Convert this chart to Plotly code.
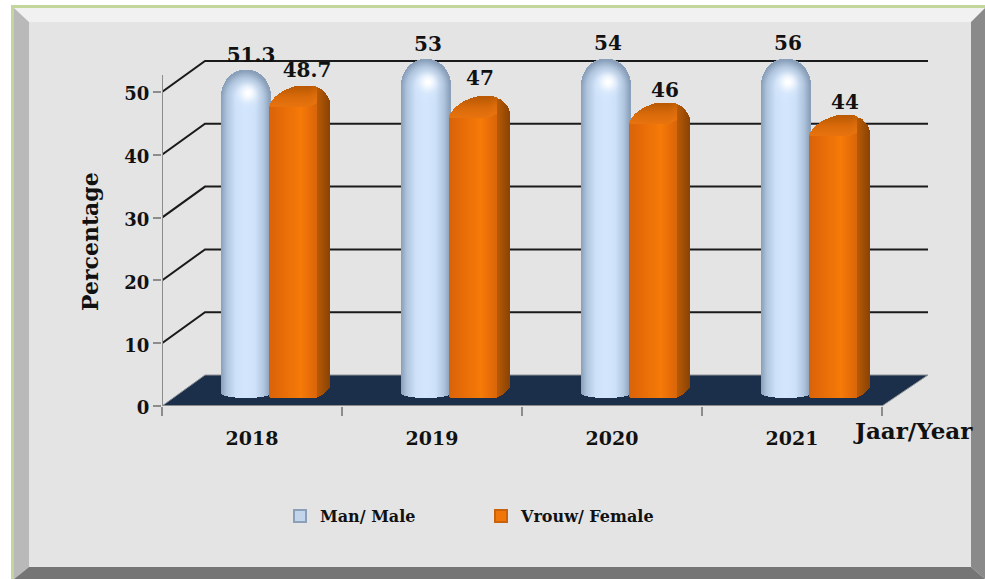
import numpy as np
import plotly.graph_objects as go

# ---- data ----
years = ["2018", "2019", "2020", "2021"]
male = [51.3, 53, 54, 56]
female = [48.7, 47, 46, 44]
male_name = "Man/ Male"
female_name = "Vrouw/ Female"
y_ticks = [0, 10, 20, 30, 40, 50]

# ---- layout constants ----
W, H = 985, 579
L, R, T, B = 162, 930, 30, 406      # plot area in page pixels
PX_CAT = 180.0                      # pixels per category
PX_UNIT = 6.28                      # pixels per percentage point
X_MIN = -0.5
X_MAX = X_MIN + (R - L) / PX_CAT
Y_MAX = (B - T) / PX_UNIT
LIFT = 2.2                          # bars stand part-way into the floor
CAP = 55.25                         # 3-D wall top; taller bars are cut here
BASE_PX = 5.0                       # depth of the cylinder's bottom ellipse
DEPTH_X = 43 / PX_CAT
DEPTH_Y = 31 / PX_UNIT
WALL_END = X_MIN + (928 - L) / PX_CAT
SERIF = "DejaVu Serif"
STEP = 1.0                          # shading cell size in pixels


def hexrgb(h):
    return np.array([int(h[i:i + 2], 16) for i in (1, 3, 5)], float)


def ramp(t, stops):
    xs = [s[0] for s in stops]
    cs = np.array([hexrgb(s[1]) for s in stops])
    return np.array([np.interp(t, xs, cs[:, i]) for i in range(3)])


def css(c):
    return "rgb(%d,%d,%d)" % tuple(np.clip(np.round(c), 0, 255))


class Cells:
    def __init__(self):
        self.x, self.base, self.h, self.w, self.c = [], [], [], [], []

    def add(self, idx, px_left, px_wid, y_hi, y_lo, col):
        if y_hi <= y_lo:
            return
        self.x.append(idx + (px_left + px_wid / 2) / PX_CAT)
        self.w.append(px_wid / PX_CAT)
        self.base.append(y_lo)
        self.h.append(y_hi - y_lo)
        self.c.append(col)


CYL_STOPS = [(0, "#d3e6fd"), (0.4, "#cde1f9"), (0.75, "#b0c5de"), (1, "#899eb8")]


def cylinder(cells, idx, value):
    left, rad, dome, glow_below = -31.0, 24.5, 27.0, 16.0
    top = min(value + LIFT, CAP)
    y_body = top - dome / PX_UNIT
    floor_y = (B - 393) / PX_UNIT
    for px in np.arange(0, 49, STEP):
        t = np.clip((px + STEP / 2 - rad) / rad, -0.99, 0.99)
        arc = np.sqrt(1 - t * t)
        y_top = top - dome * (1 - arc) / PX_UNIT
        y_low = floor_y - BASE_PX / PX_UNIT * arc
        y_glow = y_body - glow_below / PX_UNIT
        cells.add(idx, left + px, STEP + 0.2, y_glow + 0.02, y_low, css(ramp(abs(t), CYL_STOPS)))
        for row in np.arange(-glow_below, dome, STEP):
            lo = y_body + row / PX_UNIT
            hi = y_body + (row + STEP) / PX_UNIT
            if lo >= y_top:
                break
            u = max(row + STEP / 2, 0) / dome
            col = ramp(min(np.hypot(t, u), 1), CYL_STOPS)
            dx = px + STEP / 2 - 27
            dy = row + STEP / 2 - 5
            glow = np.exp(-(dx * dx + dy * dy) / 70.0)
            col = col + (255 - col) * glow
            cells.add(idx, left + px, STEP + 0.2, min(hi, y_top) + 0.01, lo, css(col))


FRONT = [(0, "#d9620a"), (12, "#e66b08"), (32, "#f57a08"), (40, "#e96e08"), (48, "#d8650a")]
SIDE = [(48, "#b85a06"), (60, "#8c4403")]
PROFILE_DX = [0, 2, 6, 14, 24, 28, 44, 52, 58, 60]
PROFILE_DY = [20, 16, 11, 5, 1, 0, 0, 3, 10, 15]
EDGE_DX = [0, 40, 48]
EDGE_DY = [20, 20, 16]
FOOT_DX = [0, 3, 46, 52, 60]
FOOT_DY = [-1, 0, 0, -3, -10]


def box(cells, idx, value):
    left = 17.0
    top = min(value + LIFT, CAP)
    foot = (B - 398) / PX_UNIT
    for px in np.arange(0, 60, STEP):
        d = px + STEP / 2
        y_top = top - np.interp(d, PROFILE_DX, PROFILE_DY) / PX_UNIT
        y_low = foot - np.interp(d, FOOT_DX, FOOT_DY) / PX_UNIT
        if d >= 48:
            cells.add(idx, left + px, STEP + 0.2, y_top, y_low, css(ramp(d, SIDE)))
            continue
        y_edge = top - np.interp(d, EDGE_DX, EDGE_DY) / PX_UNIT
        cells.add(idx, left + px, STEP + 0.2, y_edge + 0.02, y_low, css(ramp(d, FRONT)))
        span = (y_top - y_edge) * PX_UNIT
        for row in np.arange(0, span, STEP):
            lo = y_edge + row / PX_UNIT
            hi = min(y_edge + (row + STEP) / PX_UNIT, y_top)
            f = (row + STEP / 2) / 20.0
            col = ramp(f, [(0, "#e8730e"), (0.5, "#d96a0a"), (1, "#bb5a03")])
            cells.add(idx, left + px, STEP + 0.2, hi + 0.01, lo, css(col))


male_cells, female_cells = Cells(), Cells()
for i in range(len(years)):
    cylinder(male_cells, i, male[i])
    box(female_cells, i, female[i])


def bar_trace(c):
    return go.Bar(x=c.x, y=c.h, base=c.base, width=c.w,
                  marker=dict(color=c.c, line=dict(width=0)),
                  showlegend=False, hoverinfo="skip")


fig = go.Figure()
fig.add_trace(bar_trace(male_cells))
fig.add_trace(bar_trace(female_cells))

# value labels
male_label_dx = [-1, -4, -4, -4]
male_label_dy = [2.1, 2.2, 2.2, 2.2]
female_label_dx = [55, 48, 53, 53]
female_label_dy = [2.3, 2.7, 1.8, 1.9]
lab_x, lab_y, lab_t = [], [], []
for i in range(len(years)):
    lab_x.append(i + male_label_dx[i] / PX_CAT)
    lab_y.append(min(male[i] + LIFT, CAP) + male_label_dy[i])
    lab_t.append(f"{male[i]:g}")
    lab_x.append(i + female_label_dx[i] / PX_CAT)
    lab_y.append(min(female[i] + LIFT, CAP) + female_label_dy[i])
    lab_t.append(f"{female[i]:g}")
fig.add_trace(go.Scatter(x=lab_x, y=lab_y, text=lab_t, mode="text",
                         textposition="middle center",
                         textfont=dict(family=SERIF, size=20, color="#111111", weight="bold"),
                         showlegend=False, hoverinfo="skip", cliponaxis=False))

# legend entries
fig.add_trace(go.Scatter(x=[None], y=[None], mode="markers", name=male_name,
                         marker=dict(symbol="square", size=12, color="#c3d5ea",
                                     line=dict(color="#8b9fb8", width=1))))
fig.add_trace(go.Scatter(x=[None], y=[None], mode="markers", name=female_name,
                         marker=dict(symbol="square", size=12, color="#f0760c",
                                     line=dict(color="#c9620a", width=1))))


def px_x(p):
    return (p - L) / (R - L)


def px_y(p):
    return (B - p) / (B - T)


def poly(points, color, line=None):
    path = "M" + " L".join(f"{px_x(a):.5f},{px_y(b):.5f}" for a, b in points) + " Z"
    return dict(type="path", path=path, xref="paper", yref="paper", layer="below",
                fillcolor=color, line=dict(width=0) if line is None else line)


shapes = [
    poly([(11, 5), (985, 5), (985, 8), (14, 8), (14, 579), (11, 579)], "#c3d69b"),
    poly([(14, 8), (985, 8), (971, 22), (29, 22)], "#f1f1f1"),
    poly([(985, 8), (985, 579), (971, 567), (971, 22)], "#8a8a8a"),
    poly([(14, 8), (29, 22), (29, 567), (14, 579)], "#b9b9b9"),
    poly([(29, 567), (971, 567), (985, 579), (14, 579)], "#757575"),
    poly([(29, 22), (971, 22), (971, 567), (29, 567)], "#e4e4e4"),
]

# walls and floor in data coordinates
for v in y_ticks[1:]:
    shapes.append(dict(type="path", layer="below", xref="x", yref="y",
                       path=f"M{X_MIN},{v} L{X_MIN + DEPTH_X:.4f},{v + DEPTH_Y:.4f} L{WALL_END:.4f},{v + DEPTH_Y:.4f}",
                       line=dict(color="#1a1a1a", width=2)))
shapes.append(dict(type="path", layer="below", xref="x", yref="y",
                   path=(f"M{X_MIN},0 L{X_MIN + DEPTH_X:.4f},{DEPTH_Y:.4f} "
                         f"L{WALL_END:.4f},{DEPTH_Y:.4f} L{len(years) - 0.5},0 Z"),
                   fillcolor="#1c2f4a", line=dict(color="#8f9398", width=1)))
shapes.append(dict(type="line", layer="below", xref="x", yref="y",
                   x0=X_MIN, x1=len(years) - 0.5, y0=0, y1=0,
                   line=dict(color="#8c8c8c", width=2)))
shapes.append(dict(type="line", layer="below", xref="x", yref="y",
                   x0=X_MIN, x1=X_MIN, y0=0, y1=52.7,
                   line=dict(color="#8c8c8c", width=2)))

fig.update_layout(
    width=W, height=H, autosize=False,
    margin=dict(l=L, r=W - R, t=T, b=H - B, pad=0),
    paper_bgcolor="#ffffff", plot_bgcolor="rgba(0,0,0,0)",
    barmode="overlay", bargap=0, hovermode=False,
    shapes=shapes,
    xaxis=dict(range=[X_MIN, X_MAX], tickmode="array", tickvals=list(range(len(years))),
               ticktext=years, ticks="", ticklen=0, ticklabelstandoff=19, showgrid=False,
               zeroline=False, showline=False,
               tickfont=dict(family=SERIF, size=19, color="#111111", weight="bold"),
               minor=dict(tickmode="array", tickvals=[i - 0.5 for i in range(len(years) + 1)],
                          ticks="outside", ticklen=9, tickwidth=2, tickcolor="#8c8c8c",
                          showgrid=False)),
    yaxis=dict(range=[0, Y_MAX], tickmode="array", tickvals=y_ticks, ticks="outside",
               ticklen=8, tickwidth=2, tickcolor="#8c8c8c", showgrid=False, zeroline=False,
               showline=False, ticklabelshift=2,
               tickfont=dict(family=SERIF, size=18, color="#111111", weight="bold")),
    legend=dict(orientation="h", x=px_x(280), y=px_y(499), xanchor="left", yanchor="top",
                entrywidth=156, entrywidthmode="pixels", itemsizing="constant",
                bgcolor="rgba(0,0,0,0)", itemclick=False, itemdoubleclick=False,
                font=dict(family=SERIF, size=16, color="#111111", weight="bold")),
    annotations=[
        dict(text="Jaar/Year", xref="paper", yref="paper", x=px_x(913), y=px_y(430),
             xanchor="center", yanchor="middle", showarrow=False,
             font=dict(family=SERIF, size=23, color="#111111", weight="bold")),
        dict(text="Percentage", xref="paper", yref="paper", x=px_x(90), y=px_y(242),
             xanchor="center", yanchor="middle", showarrow=False, textangle=-90,
             font=dict(family=SERIF, size=22, color="#111111", weight="bold")),
    ],
)

fig.write_html("out.html", config=dict(displayModeBar=False),
               post_script="document.body.style.margin='0';")
